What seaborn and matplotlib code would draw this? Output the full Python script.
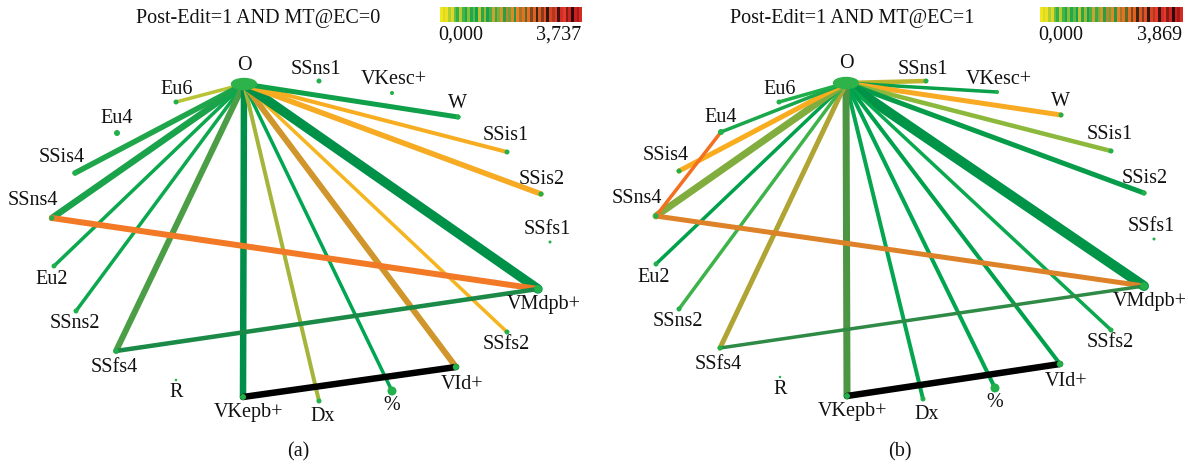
import numpy as np
import pandas as pd
import matplotlib
matplotlib.use("Agg")
import matplotlib.pyplot as plt
from matplotlib.colors import ListedColormap
from matplotlib.patches import Ellipse
import seaborn as sns

# node layout (panel-local coords, y down)
nodes = ["O", "SSns1", "VKesc+", "W", "Eu6", "Eu4", "SSis1", "SSis4", "SSis2", "SSns4", "SSfs1",
         "Eu2", "SSns2", "VMdpb+", "SSfs2", "SSfs4", "R", "VId+", "VKepb+", "Dx", "%"]
x_a = [244, 319, 392, 458, 176, 117, 507, 75, 541, 52, 550, 54, 76, 538, 507, 116, 176, 456, 243, 319, 392]
y_a = [84, 81, 93, 117, 102, 133, 152, 173, 194, 218, 242, 266, 311, 289, 332, 351, 380, 367, 397, 401, 391]
x_b = [252, 332, 403, 467, 185, 127, 517, 85, 550, 62, 560, 62, 85, 550, 517, 126, 186, 466, 253, 329, 401]
y_b = [83, 81, 92, 115, 102, 132, 151, 171, 193, 216, 239, 264, 309, 286, 330, 348, 377, 364, 396, 399, 388]

# edges: source, target, width(px), colour
src_a = ["O"] * 15 + ["SSns4", "SSfs4", "VKepb+"]
dst_a = ["Eu6", "SSis4", "SSns4", "Eu2", "SSns2", "SSfs4", "VKepb+", "Dx", "%", "VId+", "SSfs2",
         "VMdpb+", "SSis2", "SSis1", "W", "VMdpb+", "VMdpb+", "VId+"]
w_a = [3.5, 5.5, 6.5, 3.5, 3.5, 6, 6.5, 4, 3.5, 6, 3.5, 9.5, 5.5, 4, 5, 6, 4.5, 6.5]
col_a = ["#b9c435", "#1fa64a", "#1aa34a", "#0ba84e", "#0ca84e", "#4b9e45", "#008f48", "#a5b43a",
         "#00a651", "#d1962b", "#f5b520", "#009149", "#f7ab22", "#f8ad20", "#10a04a",
         "#f27a26", "#1b8a47", "#000000"]

src_b = ["O"] * 18 + ["Eu4", "SSns4", "SSfs4", "VKepb+"]
dst_b = ["SSns1", "VKesc+", "W", "SSis1", "SSis2", "VMdpb+", "SSfs2", "VId+", "%", "Dx", "VKepb+",
         "SSfs4", "SSns2", "Eu2", "SSns4", "SSis4", "Eu4", "Eu6", "SSns4", "VMdpb+", "VMdpb+", "VId+"]
w_b = [4.5, 3.5, 5, 4.5, 5, 10, 3.5, 4, 4, 4, 7, 5, 3.5, 3.5, 7, 5, 3.5, 3.5, 3.5, 5, 3.5, 6.5]
col_b = ["#bdb52e", "#0aa04a", "#f8aa22", "#8cb83c", "#079c4a", "#009448", "#0aa84f", "#00a14b",
         "#00a650", "#05a64f", "#4c9542", "#b0a534", "#3db34a", "#00a14b", "#80ad3d", "#f8ac1e",
         "#1aa64a", "#1eae4a", "#f37021", "#dd8228", "#2f8a46", "#000000"]

titles = ["Post-Edit=1 AND MT@EC=0", "Post-Edit=1 AND MT@EC=1"]
cbar_max = ["3,737", "3,869"]
panel_tags = ["(a)", "(b)"]

stripes = ["#f0e81c", "#d8dc24", "#f2e020", "#a8d034", "#e0d828", "#6cbc44", "#30b04a", "#b8cc30",
           "#44b448", "#1aa84c", "#88c03c", "#22aa4a", "#60b846", "#10a44c", "#c4c030", "#2aa848",
           "#9cb83a", "#18a24a", "#4aac44", "#c8a430", "#3aa646", "#84aa3a", "#d09a2a", "#289e48",
           "#b08c2c", "#6e9e3a", "#dc8a28", "#2a9446", "#e88226", "#a67228", "#e07422", "#5a6a2a",
           "#e86c22", "#7a4a1e", "#e46020", "#3a2612", "#d85a24", "#8a3a1a", "#e44e26", "#2a1a10",
           "#dc4224", "#b03a1e", "#e8382a", "#401410", "#d42c26", "#e23a2c", "#8a1c16", "#d02424",
           "#2a0c0a", "#c82020", "#a81a1a", "#d42a22"]

# label offsets and dot sizes (style)
lbl_off = {"O": (0, -19), "SSns1": (-3, -12), "VKesc+": (2, -13), "W": (-1, -14), "Eu6": (1, -13),
           "Eu4": (0, -15), "SSis1": (-1, -17), "SSis4": (-13, -16), "SSis2": (1, -15),
           "SSns4": (-19, -18), "SSfs1": (-3, -13), "Eu2": (-2, 13), "SSns2": (-1, 12),
           "VMdpb+": (6, 15), "SSfs2": (-1, 12), "SSfs4": (-2, 16), "R": (0, 12), "VId+": (6, 17),
           "VKepb+": (6, 15), "Dx": (4, 15), "%": (0, 14)}
dot_px = {"%": 9, "VMdpb+": 8, "SSfs1": 3, "R": 2.5, "VKesc+": 4, "Eu4": 6, "VId+": 6.5, "VKepb+": 6}

sns.set_theme(style="white")
plt.rcParams["font.family"] = ["Liberation Serif", "DejaVu Serif"]
FS = 14.5
PX = 0.72  # px -> pt at dpi 100

fig = plt.figure(figsize=(11.88, 4.65), dpi=100)
panels = [(x_a, y_a, src_a, dst_a, w_a, col_a, (440, 582)),
          (x_b, y_b, src_b, dst_b, w_b, col_b, (446, 589))]

for i, (xs, ys, src, dst, ws, cols, cb) in enumerate(panels):
    ax = fig.add_axes([0.5 * i, 0, 0.5, 1])
    pos = {n: (x, y) for n, x, y in zip(nodes, xs, ys)}

    for s, d, w, c in zip(src, dst, ws, cols):
        ax.plot([pos[s][0], pos[d][0]], [pos[s][1], pos[d][1]], color=c, lw=w * PX,
                solid_capstyle="round", zorder=2)

    df = pd.DataFrame({"node": nodes, "x": xs, "y": ys})
    df["s"] = [(dot_px.get(n, 5) * PX) ** 2 for n in nodes]
    df = df[df.node != "O"]
    sns.scatterplot(data=df, x="x", y="y", s=df["s"].values, color="#22b04b", linewidth=0,
                    ax=ax, zorder=3, legend=False)
    ax.add_patch(Ellipse(pos["O"], 25, 11, color="#2db34a", zorder=4))

    for n in nodes:
        dx, dy = lbl_off[n]
        ax.text(pos[n][0] + dx, pos[n][1] + dy, n, ha="center", va="center", fontsize=FS,
                color="#111111", zorder=5)

    # title and colour scale
    ax.text(258, 19, titles[i], ha="center", va="center", fontsize=FS, color="#111111")
    ax.imshow(np.arange(len(stripes))[None, :], cmap=ListedColormap(stripes), aspect="auto",
              extent=[cb[0], cb[1], 22, 7], interpolation="nearest", zorder=1)
    ax.text(cb[0] + 21, 35, "0,000", ha="center", va="center", fontsize=FS, color="#111111")
    ax.text(cb[1] - 23, 35, cbar_max[i], ha="center", va="center", fontsize=FS, color="#111111")
    ax.text(298 + 8 * i, 452, panel_tags[i], ha="center", va="center", fontsize=FS, color="#111111")

    ax.set_xlim(0, 594)
    ax.set_ylim(465, 0)
    ax.set_axis_off()

fig.savefig("out.png", dpi=100)
